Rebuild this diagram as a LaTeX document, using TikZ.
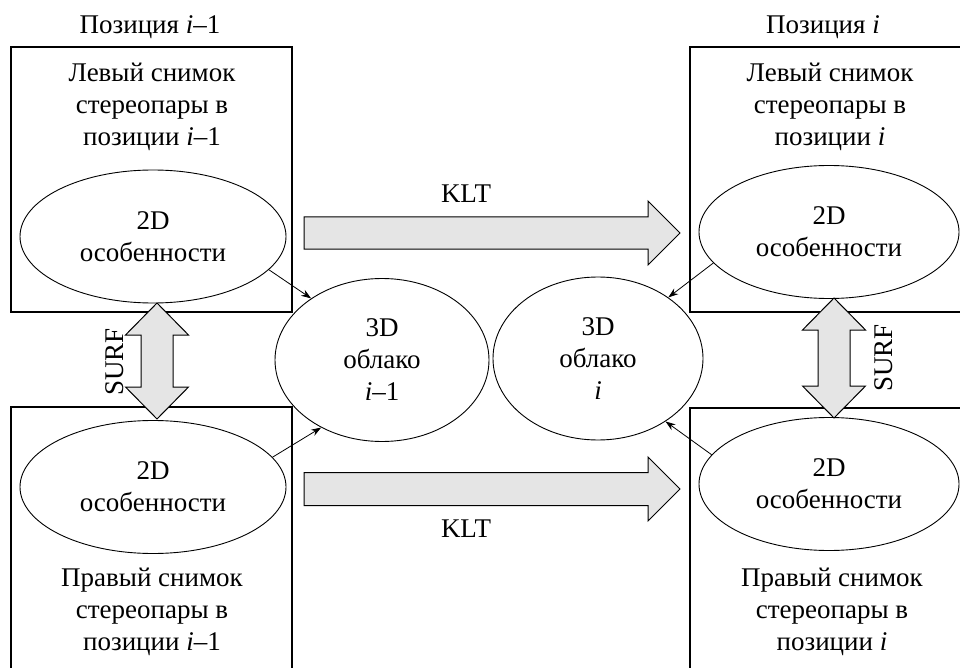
\documentclass[tikz,border=0pt]{standalone}
\usepackage{fontspec}
\setmainfont{Liberation Serif}
\usetikzlibrary{shapes.geometric,arrows.meta}
\newcommand{\txtsize}{\fontsize{27}{32}\selectfont}
\tikzset{
  frame/.style  ={draw, line width=1.1pt},
  feat/.style   ={ellipse, draw, line width=0.9pt, inner sep=0pt,
                  minimum width=266pt, minimum height=133pt,
                  align=center, font=\txtsize},
  cloudn/.style ={feat, minimum width=214pt, minimum height=163pt},
  lbl/.style    ={align=center, font=\txtsize, inner sep=0pt},
  blk/.style    ={draw, line width=1pt, fill=black!10, line join=miter},
  fl/.style     ={-{Stealth[length=10pt,width=7pt]}, line width=0.8pt}
}

\begin{document}
\begin{tikzpicture}[x=1pt, y=-1pt]
  \useasboundingbox (0,0) rectangle (960,668);
  \clip (0,0) rectangle (960,668);

  % position i-1
  \node[lbl] (posA) at (150,27) {Позиция \textit{i}–1};
  \draw[frame] (11,47) rectangle (292,312);
  \draw[frame] (11,407) rectangle (292,690);
  \node[lbl] (leftA) at (152,107) {Левый снимок\\стереопары в\\позиции \textit{i}–1};
  \node[lbl] (rightA) at (152,612) {Правый снимок\\стереопары в\\позиции \textit{i}–1};
  \node[feat] (featLA) at (153,236.5) {2D\\особенности};
  \node[feat] (featRA) at (153,487) {2D\\особенности};

  % position i
  \node[lbl] (posB) at (823,27) {Позиция \textit{i}};
  \draw[frame] (690,47) rectangle (990,312);
  \draw[frame] (690,408) rectangle (990,690);
  \node[lbl] (leftB) at (830,107) {Левый снимок\\стереопары в\\позиции \textit{i}};
  \node[lbl] (rightB) at (832,612) {Правый снимок\\стереопары в\\позиции \textit{i}};
  \node[feat, minimum width=260pt] (featLB) at (829,232) {2D\\особенности};
  \node[feat, minimum width=260pt] (featRB) at (829,484) {2D\\особенности};

  % 3D clouds
  \node[cloudn] (cloudA) at (382,360) {3D\\облако\\\textit{i}–1};
  \node[cloudn, minimum width=210pt] (cloudB) at (598,358.5) {3D\\облако\\\textit{i}};

  % KLT block arrows
  \draw[blk] (304,217) -- (648,217) -- (648,201) -- (680,233) -- (648,265)
             -- (648,249) -- (304,249) -- cycle;
  \draw[blk] (304,472.5) -- (648,472.5) -- (648,457) -- (680,489) -- (648,521)
             -- (648,505.5) -- (304,505.5) -- cycle;
  \node[lbl] (kltA) at (466,194) {KLT};
  \node[lbl] (kltB) at (466,529) {KLT};

  % SURF block arrows
  \draw[blk] (157,303) -- (188.5,335) -- (173,335) -- (173,387) -- (188.5,387)
             -- (157,419) -- (125.5,387) -- (141,387) -- (141,335) -- (125.5,335) -- cycle;
  \draw[blk] (834,298) -- (865.5,330) -- (850,330) -- (850,386) -- (865.5,386)
             -- (834,418) -- (802.5,386) -- (818,386) -- (818,330) -- (802.5,330) -- cycle;
  \node[lbl, rotate=90] (surfA) at (115,362) {SURF};
  \node[lbl, rotate=90] (surfB) at (884,358) {SURF};

  \draw[fl] (featLA.-16) -- (cloudA.139);
  \draw[fl] (featRA.14)  -- (cloudA.228);
  \draw[fl] (featLB.195) -- (cloudB.41);
  \draw[fl] (featRB.166) -- (cloudB.-43);
\end{tikzpicture}
\end{document}
